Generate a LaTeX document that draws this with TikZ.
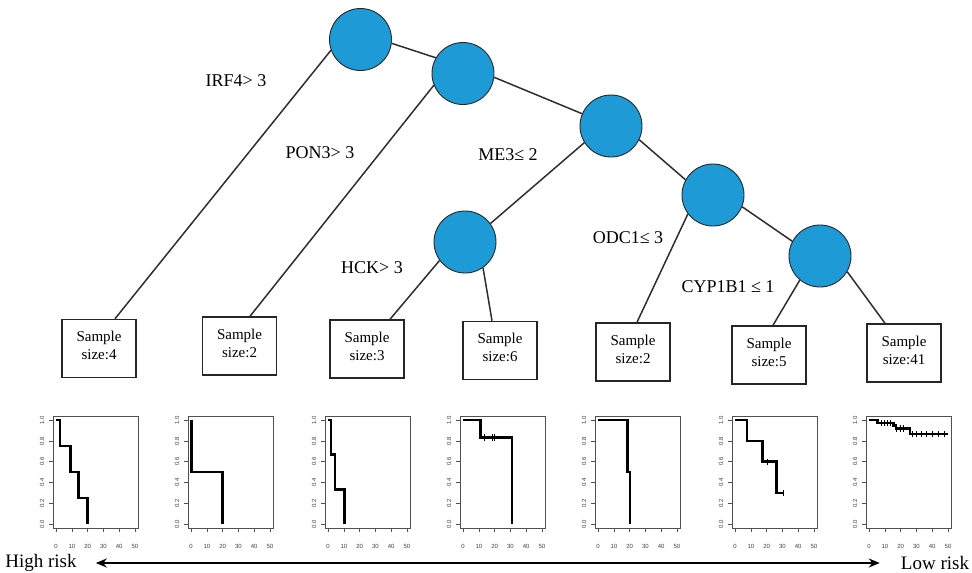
\documentclass[tikz,border=0pt]{standalone}
\usepackage{fontspec}
\setmainfont{Liberation Serif}
\newfontfamily\axisfont{Liberation Sans}
\usetikzlibrary{arrows.meta}
\definecolor{nodeblue}{HTML}{1E9BD7}
\definecolor{edgegray}{HTML}{2E2E2E}
\definecolor{framegray}{HTML}{505050}

\tikzset{
  split/.style={circle, minimum size=62pt, inner sep=0pt, fill=nodeblue, draw=black!85, line width=0.9pt},
  leaf/.style={draw=black!85, line width=1.5pt, minimum width=74pt, minimum height=58pt, inner sep=0pt,
               align=center, font=\fontsize{15}{18}\selectfont},
  leaftext/.style={inner sep=0pt, align=center, font=\fontsize{15}{18}\selectfont},
  branch/.style={draw=edgegray, line width=1.5pt},
  rule/.style={font=\fontsize{18}{20}\selectfont, inner sep=0pt},
  panel/.style={shift={(#1+3.15,523.9)}, x=1.574pt, y=103.7pt},
  pframe/.style={draw=framegray, line width=0.8pt},
  ptick/.style={draw=framegray, line width=0.6pt},
  xlab/.style={font=\axisfont\fontsize{6}{7}\selectfont, text=black!75, inner sep=0pt},
  ylab/.style={xlab, rotate=90},
  km/.style={line width=2.5pt, line join=miter},
  cens/.style={line width=0.9pt},
  risk/.style={font=\fontsize{19}{21}\selectfont, inner sep=0pt},
}

% frame, ticks and tick labels of one survival panel
\newcommand{\kmaxes}[1]{%
  \draw[pframe] (-2,-0.04) rectangle (52,1.04);
  \foreach \tk in {0,10,20,30,40,50}{%
    \draw[ptick] (\tk,-0.04) -- (\tk,-0.075);
    \node[xlab] (p#1x\tk) at (\tk,-0.215) {\tk};}
  \foreach \yv [count=\i] in {0.0,0.2,0.4,0.6,0.8,1.0}{%
    \draw[ptick] (-2,\yv) -- (-4.3,\yv);
    \node[ylab] (p#1y\i) at (-9,\yv) {\yv};}
}

% a leaf box with its sample size, text set a little above centre
\newcommand{\leafbox}[3]{%
  \node[leaf] (#1) at #2 {};
  \node[leaftext] (#1t) at ([yshift=3pt]#1.center) {Sample\\size:#3};
}

\begin{document}
\begin{tikzpicture}[x=1pt, y=-1pt]
\useasboundingbox (0,0) rectangle (972,573);

% split nodes
\node[split] (c1)  at (360.5,39.5) {};
\node[split] (c2)  at (463,73.5) {};
\node[split] (c3)  at (611,126) {};
\node[split] (c4)  at (713,195) {};
\node[split] (c5)  at (820,256) {};
\node[split] (hck) at (465,242) {};

% leaves
\leafbox{b1}{(99,348.5)}{4}
\leafbox{b2}{(239.5,346)}{2}
\leafbox{b3}{(367,349)}{3}
\leafbox{b4}{(500,350.5)}{6}
\leafbox{b5}{(633,352)}{2}
\leafbox{b6}{(769,355)}{5}
\leafbox{b7}{(904,353)}{41}

% branches
\draw[branch] (c1.200) -- ([xshift=16pt]b1.north);
\draw[branch] (c1.-7) -- (c2.150);
\draw[branch] (c2.202) -- ([xshift=10.5pt]b2.north);
\draw[branch] (c2.-7) -- (c3.157);
\draw[branch] (c3.-26) -- (c4.151);
\draw[branch] (c3.212) -- (hck.36);
\draw[branch] (hck.216) -- ([xshift=23pt]b3.north);
\draw[branch] (hck.-55) -- ([xshift=-8pt]b4.north);
\draw[branch] (c4.-22) -- (c5.152);
\draw[branch] (c4.217) -- ([xshift=4pt]b5.north);
\draw[branch] (c5.230) -- ([xshift=4pt]b6.north);
\draw[branch] (c5.-30) -- ([xshift=-19pt]b7.north);

% split rules
\node[rule] (r1) at (236,81)  {IRF4> 3};
\node[rule] (r2) at (320,153) {PON3> 3};
\node[rule] (r3) at (508,155) {ME3≤ 2};
\node[rule] (r4) at (372,268) {HCK> 3};
\node[rule] (r5) at (628,238) {ODC1≤ 3};
\node[rule] (r6) at (728,287) {CYP1B1 ≤ 1};

% survival curves
\begin{scope}[panel=53]
  \kmaxes{1}
  \draw[km] (0,1) -- (2.6,1) -- (2.6,0.75) -- (9.2,0.75) -- (9.2,0.5) -- (14.2,0.5)
            -- (14.2,0.25) -- (20,0.25) -- (20,0);
\end{scope}
\begin{scope}[panel=188]
  \kmaxes{2}
  \draw[km] (0.3,1) -- (0.3,0.5) -- (20,0.5) -- (20,0);
\end{scope}
\begin{scope}[panel=325]
  \kmaxes{3}
  \draw[km] (0,1) -- (1.7,1) -- (1.7,0.667) -- (4.3,0.667) -- (4.3,0.333)
            -- (10.3,0.333) -- (10.3,0);
\end{scope}
\begin{scope}[panel=460]
  \kmaxes{4}
  \draw[km] (0,1) -- (11,1) -- (11,0.833) -- (30.9,0.833) -- (30.9,0);
  \foreach \cx in {13.8,18.3,19.6}
    \draw[cens] (\cx,0.833) ++(0,-0.03) -- ++(0,0.06);
\end{scope}
\begin{scope}[panel=595]
  \kmaxes{5}
  \draw[km] (0,1) -- (18.6,1) -- (18.6,0.5) -- (20.3,0.5) -- (20.3,0);
\end{scope}
\begin{scope}[panel=732]
  \kmaxes{6}
  \draw[km] (0,1) -- (7.5,1) -- (7.5,0.8) -- (17.5,0.8) -- (17.5,0.6) -- (26.3,0.6)
            -- (26.3,0.3) -- (30.6,0.3);
  \foreach \cx/\cy in {20.2/0.6,30.6/0.3}
    \draw[cens] (\cx,\cy) ++(0,-0.03) -- ++(0,0.06);
\end{scope}
\begin{scope}[panel=866]
  \kmaxes{7}
  \draw[km] (0,1) -- (5.3,1) -- (5.3,0.975) -- (15.5,0.975) -- (15.5,0.95) -- (17,0.95)
            -- (17,0.92) -- (26,0.92) -- (26,0.865) -- (49.8,0.865);
  \foreach \cx/\cy in {7.6/0.975,9.7/0.975,11.7/0.975,13.8/0.975,
                       17.6/0.92,19.7/0.92,21.8/0.92,
                       27.7/0.865,30.3/0.865,33.3/0.865,36.7/0.865,40.3/0.865,44/0.865,47.7/0.865}
    \draw[cens] (\cx,\cy) ++(0,-0.03) -- ++(0,0.06);
\end{scope}

% risk scale
\node[risk] (hr) at (41,563)  {High risk};
\node[risk] (lr) at (935,563) {Low risk};
\draw[line width=1.8pt, {Stealth[length=11pt,width=9pt]}-{Stealth[length=11pt,width=9pt]}]
  ([xshift=19pt]hr.east) -- ([xshift=-21pt]lr.west);
\end{tikzpicture}
\end{document}
